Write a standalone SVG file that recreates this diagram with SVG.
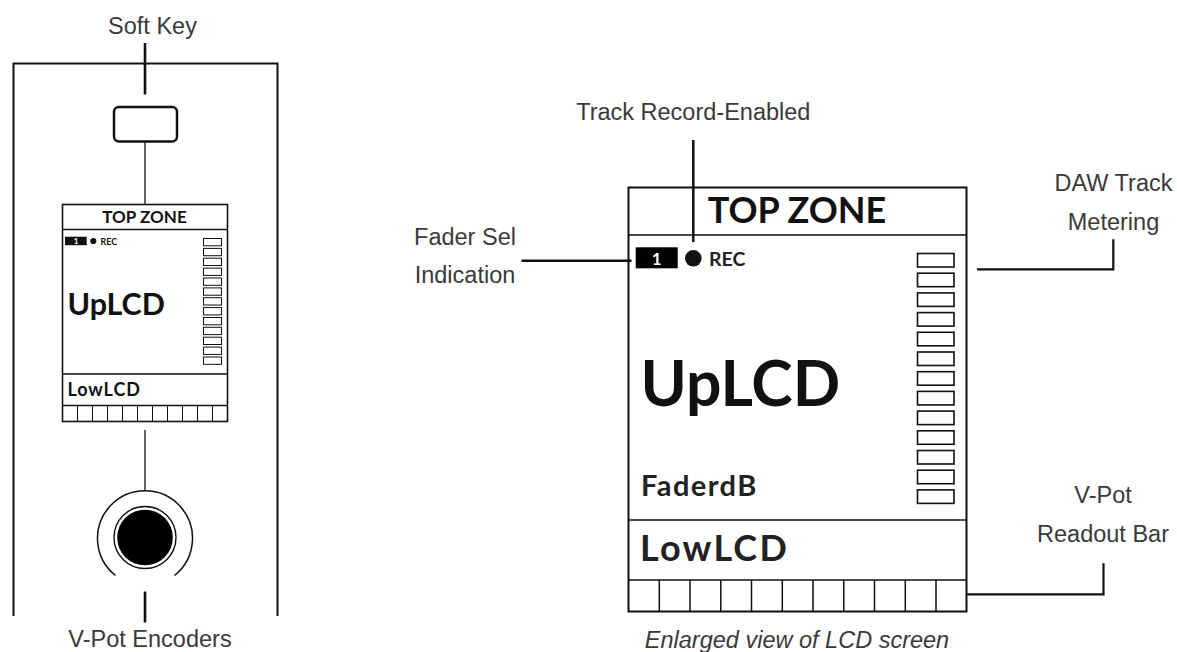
<svg xmlns="http://www.w3.org/2000/svg" width="1177" height="652" viewBox="0 0 1177 652">
<style>
.lbl{font-family:"Liberation Sans",Arial,sans-serif;font-size:23.5px;fill:#3a3a3a;}
.lcd{font-family:Lato,"Liberation Sans",sans-serif;font-weight:bold;fill:#111;}
.ln{stroke:#111;fill:none;}
.box{stroke:#111;fill:#fff;}
</style>
<rect width="1177" height="652" fill="#fff"/>

<g id="panel">
  <path class="ln" stroke-width="2" d="M13.5 616 V63.5 H277.5 V616"/>
</g>

<g id="soft-key">
  <rect class="box" x="114" y="107" width="63" height="34.5" rx="5" stroke-width="2.5"/>
</g>

<g id="small-lcd">
  <rect class="box" x="62.5" y="204.5" width="165" height="217" stroke-width="1.6"/>
  <path class="ln" stroke-width="1.3" d="M62.5 229.5 H227.5 M62.5 374 H227.5 M62.5 405.5 H227.5"/>
  <path class="ln" stroke-width="1" d="M77.5 405.5 V421.5 M92.5 405.5 V421.5 M107.5 405.5 V421.5 M122.5 405.5 V421.5 M137.5 405.5 V421.5 M152.5 405.5 V421.5 M167.5 405.5 V421.5 M182.5 405.5 V421.5 M197.5 405.5 V421.5 M212.5 405.5 V421.5"/>
  <text class="lcd" x="144.5" y="223" font-size="17" text-anchor="middle">TOP ZONE</text>
  <rect x="65" y="236.7" width="21.7" height="8.5" fill="#111"/>
  <text class="lcd" x="76" y="244.3" font-size="8" text-anchor="middle" style="fill:#fff">1</text>
  <circle cx="93.3" cy="241" r="3.1" fill="#111"/>
  <text class="lcd" x="100.5" y="244.8" font-size="9">REC</text>
  <text class="lcd" x="67.5" y="315" font-size="30.5">UpLCD</text>
  <text class="lcd" x="67.5" y="396" font-size="18" letter-spacing="0.9">LowLCD</text>
  <g class="box" stroke-width="1">
    <rect x="203.5" y="238.5" width="18" height="7.3"/>
    <rect x="203.5" y="248.4" width="18" height="7.3"/>
    <rect x="203.5" y="258.2" width="18" height="7.3"/>
    <rect x="203.5" y="268.1" width="18" height="7.3"/>
    <rect x="203.5" y="278" width="18" height="7.3"/>
    <rect x="203.5" y="287.9" width="18" height="7.3"/>
    <rect x="203.5" y="297.7" width="18" height="7.3"/>
    <rect x="203.5" y="307.6" width="18" height="7.3"/>
    <rect x="203.5" y="317.5" width="18" height="7.3"/>
    <rect x="203.5" y="327.3" width="18" height="7.3"/>
    <rect x="203.5" y="337.2" width="18" height="7.3"/>
    <rect x="203.5" y="347.1" width="18" height="7.3"/>
    <rect x="203.5" y="357" width="18" height="7.3"/>
  </g>
</g>

<g id="v-pot-encoder">
  <path class="ln" stroke-width="1.5" d="M115.5 575.5 A47.5 47.5 0 1 1 174.5 575.5"/>
  <circle cx="145" cy="537.5" r="31" fill="#fff" stroke="#111" stroke-width="1.4"/>
  <circle cx="145" cy="537.5" r="27.8" fill="#000"/>
</g>

<g id="large-lcd">
  <rect class="box" x="628.5" y="187.5" width="338" height="424" stroke-width="2"/>
  <path class="ln" stroke-width="1.5" d="M628.5 235 H966.5 M628.5 520 H966.5 M628.5 580 H966.5"/>
  <path class="ln" stroke-width="1.5" d="M659.3 580 V611.5 M690 580 V611.5 M720.8 580 V611.5 M751.5 580 V611.5 M782.3 580 V611.5 M813 580 V611.5 M843.8 580 V611.5 M874.5 580 V611.5 M905.3 580 V611.5 M936 580 V611.5"/>
  <text class="lcd" x="797" y="223.3" font-size="36" text-anchor="middle">TOP ZONE</text>
  <rect x="635.7" y="247.3" width="42" height="21" fill="#000"/>
  <text class="lcd" x="656.7" y="265" font-size="17" text-anchor="middle" style="fill:#fff">1</text>
  <circle cx="693.3" cy="258.3" r="8.3" fill="#111"/>
  <text class="lcd" x="709" y="265.7" font-size="19.5" style="fill:#222">REC</text>
  <text class="lcd" x="640.5" y="406" font-size="62.5">UpLCD</text>
  <text class="lcd" x="641" y="496" font-size="29" letter-spacing="1.4" style="fill:#222">FaderdB</text>
  <text class="lcd" x="640" y="560.7" font-size="36" letter-spacing="2.2" style="fill:#222">LowLCD</text>
  <g class="box" stroke-width="1.6">
    <rect x="917.5" y="253.5" width="36.5" height="13.5"/>
    <rect x="917.5" y="273.2" width="36.5" height="13.5"/>
    <rect x="917.5" y="292.9" width="36.5" height="13.5"/>
    <rect x="917.5" y="312.6" width="36.5" height="13.5"/>
    <rect x="917.5" y="332.3" width="36.5" height="13.5"/>
    <rect x="917.5" y="352" width="36.5" height="13.5"/>
    <rect x="917.5" y="371.7" width="36.5" height="13.5"/>
    <rect x="917.5" y="391.4" width="36.5" height="13.5"/>
    <rect x="917.5" y="411.1" width="36.5" height="13.5"/>
    <rect x="917.5" y="430.8" width="36.5" height="13.5"/>
    <rect x="917.5" y="450.5" width="36.5" height="13.5"/>
    <rect x="917.5" y="470.2" width="36.5" height="13.5"/>
    <rect x="917.5" y="489.9" width="36.5" height="13.5"/>
  </g>
</g>

<g id="labels">
  <text class="lbl" x="152.5" y="33.5" text-anchor="middle">Soft Key</text>
  <text class="lbl" x="150" y="647" text-anchor="middle">V-Pot Encoders</text>
  <text class="lbl" x="693.3" y="120" text-anchor="middle">Track Record-Enabled</text>
  <text class="lbl" x="465" y="245" text-anchor="middle">Fader Sel</text>
  <text class="lbl" x="465" y="283" text-anchor="middle">Indication</text>
  <text class="lbl" x="1113.5" y="190.7" text-anchor="middle">DAW Track</text>
  <text class="lbl" x="1113.5" y="230" text-anchor="middle">Metering</text>
  <text class="lbl" x="1103" y="503" text-anchor="middle">V-Pot</text>
  <text class="lbl" x="1103" y="541.7" text-anchor="middle">Readout Bar</text>
  <text class="lbl" x="797" y="648" text-anchor="middle" font-style="italic" font-size="23">Enlarged view of LCD screen</text>
</g>

<g id="connectors" stroke="#111" fill="none">
  <path stroke-width="2.6" d="M145 43 V94.5"/>
  <path stroke-width="1.3" d="M145 141.5 V204.5"/>
  <path stroke-width="1.3" d="M145 430 V490"/>
  <path stroke-width="2.6" d="M145 591.5 V622.5"/>
  <path stroke-width="2.5" d="M693.3 140 V242"/>
  <path stroke-width="2.5" d="M521.5 260.7 H631.5"/>
  <path stroke-width="2.2" d="M977 269.3 H1113.3 V239.3"/>
  <path stroke-width="2.2" d="M966.5 594.3 H1103.5 V563.3"/>
</g>
</svg>
